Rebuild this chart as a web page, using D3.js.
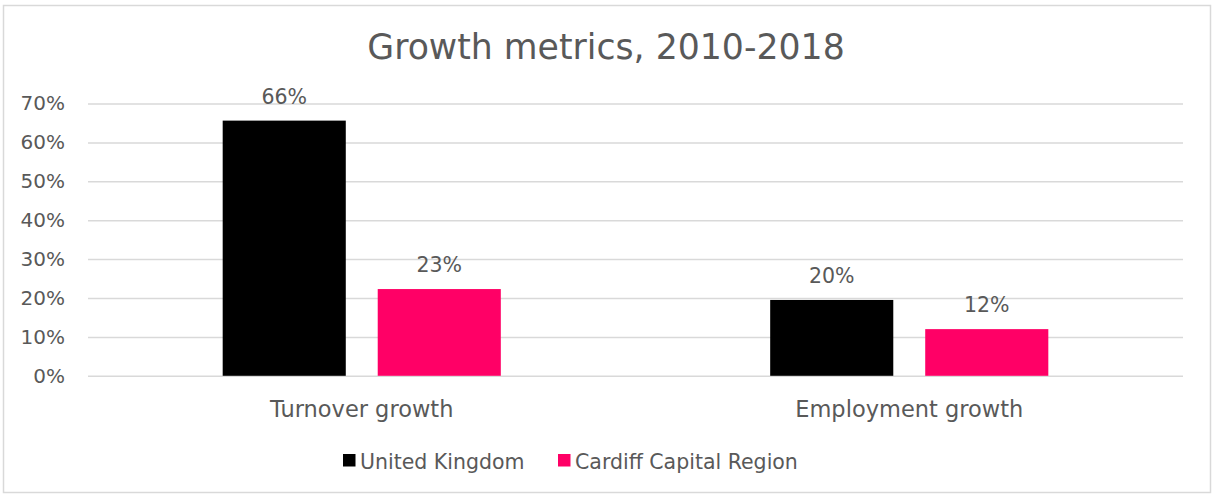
<!DOCTYPE html>
<html>
<head>
<meta charset="utf-8">
<script src="https://cdn.jsdelivr.net/npm/d3@7"></script>
<style>
  body { margin: 0; background: #fff; }
  svg text { font-family: "DejaVu Sans", "Lato", sans-serif; fill: #595959; }
</style>
</head>
<body>
<div id="chart"></div>
<script>
// data
const categories = ['Turnover growth', 'Employment growth'];
const seriesNames = ['United Kingdom', 'Cardiff Capital Region'];
const ukValues = [0.656, 0.195];
const ccrValues = [0.223, 0.12];
const labels = [['66%', '23%'], ['20%', '12%']];
const yTicks = [0, 0.1, 0.2, 0.3, 0.4, 0.5, 0.6, 0.7];
const colors = ['#000000', '#ff0066'];

const W = 1213, H = 496;
const margin = { top: 103.5, right: 30, bottom: 120, left: 88 };
const width = 1183 - margin.left;
const height = 375.8 - margin.top;

const svg = d3.select('#chart').append('svg')
  .attr('width', W)
  .attr('height', H);

// chart border
svg.append('rect')
  .attr('x', 3.5).attr('y', 5.5)
  .attr('width', 1207).attr('height', 487)
  .attr('fill', 'none')
  .attr('stroke', '#d9d9d9')
  .attr('stroke-width', 1.5);

// title
svg.append('text')
  .attr('x', 606).attr('y', 59)
  .attr('text-anchor', 'middle')
  .style('font-size', '34.7px')
  .text('Growth metrics, 2010-2018');

const g = svg.append('g')
  .attr('transform', 'translate(' + margin.left + ',' + margin.top + ')');

const x0 = d3.scaleBand()
  .domain(categories)
  .range([0, width])
  .paddingInner(0.492)
  .paddingOuter(0.246);

const x1 = d3.scaleBand()
  .domain(seriesNames)
  .range([0, x0.bandwidth()])
  .paddingInner(0.206);

const y = d3.scaleLinear().domain([0, 0.7]).range([height, 0]);

// gridlines via axis
const yAxis = d3.axisLeft(y)
  .tickValues(yTicks)
  .tickSize(-width)
  .tickPadding(23)
  .tickFormat(d3.format('.0%'));

const ya = g.append('g').attr('class', 'y axis').call(yAxis);
ya.select('.domain').remove();
ya.selectAll('line').attr('stroke', '#d9d9d9').attr('stroke-width', 1.5);
ya.selectAll('text')
  .attr('font-family', null)
  .style('font-size', '20px')
  .style('fill', '#595959');

const table = categories.map((c, i) => ({
  cat: c,
  vals: [
    { s: seriesNames[0], v: ukValues[i], label: labels[i][0] },
    { s: seriesNames[1], v: ccrValues[i], label: labels[i][1] }
  ]
}));

const group = g.selectAll('.grp')
  .data(table)
  .enter()
  .append('g')
  .attr('class', 'grp')
  .attr('transform', d => 'translate(' + x0(d.cat) + ',0)');

group.selectAll('rect')
  .data(d => d.vals)
  .enter()
  .append('rect')
  .attr('x', d => x1(d.s))
  .attr('y', d => y(d.v))
  .attr('width', x1.bandwidth())
  .attr('height', d => height - y(d.v))
  .attr('fill', (d, i) => colors[i]);

group.selectAll('.lbl')
  .data(d => d.vals)
  .enter()
  .append('text')
  .attr('class', 'lbl')
  .attr('x', d => x1(d.s) + x1.bandwidth() / 2)
  .attr('y', d => y(d.v) - 17)
  .attr('text-anchor', 'middle')
  .style('font-size', '20.5px')
  .text(d => d.label);

// category axis labels
const xa = g.append('g')
  .attr('transform', 'translate(0,' + height + ')')
  .call(d3.axisBottom(x0).tickSize(0).tickPadding(25));
xa.select('.domain').remove();
xa.selectAll('text')
  .attr('font-family', null)
  .style('font-size', '22.5px')
  .style('fill', '#595959');

// legend
const legendX = [343, 558];
const legend = svg.selectAll('.legend')
  .data(seriesNames)
  .enter()
  .append('g')
  .attr('class', 'legend')
  .attr('transform', (d, i) => 'translate(' + legendX[i] + ',454)');

legend.append('rect')
  .attr('width', 12.5).attr('height', 12.5)
  .attr('fill', (d, i) => colors[i]);

legend.append('text')
  .attr('x', 17).attr('y', 14.5)
  .style('font-size', '20.5px')
  .text(d => d);
</script>
</body>
</html>
